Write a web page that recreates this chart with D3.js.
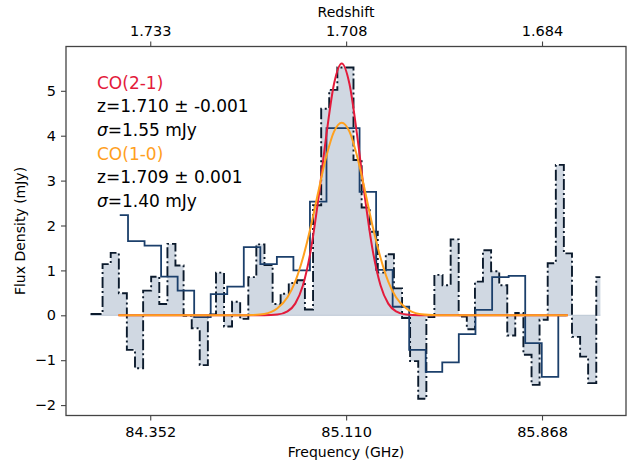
<!DOCTYPE html>
<html>
<head>
<meta charset="utf-8">
<script src="https://cdn.jsdelivr.net/npm/d3@7"></script>
<style>
    body { margin: 0; background: #fff; }
    svg { font-family: "DejaVu Sans", sans-serif; }
</style>
</head>
<body>
<div id="chart"></div>
<script>
// CO(2-1) spectrum, narrow channels (GHz / mJy)
const co21Freq = [
    84.121, 84.152, 84.183, 84.215, 84.246, 84.277, 84.309, 84.340, 84.371, 84.403,
    84.434, 84.465, 84.497, 84.528, 84.559, 84.591, 84.622, 84.653, 84.684, 84.716,
    84.747, 84.778, 84.810, 84.841, 84.872, 84.904, 84.935, 84.966, 84.998, 85.029,
    85.060, 85.092, 85.123, 85.154, 85.186, 85.217, 85.248, 85.279, 85.311, 85.342,
    85.373, 85.405, 85.436, 85.467, 85.499, 85.530, 85.561, 85.593, 85.624, 85.655,
    85.687, 85.718, 85.749, 85.780, 85.812, 85.843, 85.874, 85.906, 85.937, 85.968,
    86.000, 86.031, 86.062, 86.094
];
const co21Flux = [
    0.03, 0.03, 1.14, 1.39, 0.49, -0.77, -1.18, 0.55, 0.86, 0.25,
    1.59, 1.11, -0.01, -0.29, -1.11, 0.02, 0.95, -0.25, 0.30, -0.08,
    0.85, 1.58, 1.12, 0.25, 0.48, 0.72, 0.78, 0.13, 2.45, 4.60,
    5.02, 5.52, 5.52, 3.46, 2.40, 1.86, 0.95, 1.36, 0.60, -0.06,
    -1.02, -1.86, -0.04, 0.90, 0.67, 1.69, -0.03, -0.31, 0.75, 1.45,
    0.98, 0.67, -0.45, 0.05, -0.88, -1.55, -0.10, 1.16, 3.35, 1.38,
    -0.48, -0.92, -1.51, 0.85
];

// CO(1-0) spectrum, wider channels
const co10Freq = [
    84.234, 84.298, 84.362, 84.426, 84.490, 84.554, 84.618, 84.682, 84.746, 84.810,
    84.874, 84.938, 85.002, 85.066, 85.130, 85.194, 85.258, 85.322, 85.386, 85.450,
    85.514, 85.578, 85.643, 85.707, 85.771, 85.835, 85.899, 85.963
];
const co10Flux = [
    2.23, 1.65, 1.55, 0.86, 0.55, -0.04, 0.47, 0.64, 1.52, 1.14,
    1.30, 1.00, 2.53, 4.17, 4.17, 2.75, 1.01, 0.19, -0.77, -1.26,
    -1.05, -0.42, 0.12, 0.85, 0.88, -0.62, -1.37, 0.00
];

// gaussian fits
const fitFreq = [
    84.229, 84.693, 84.743, 84.793, 84.843, 84.883, 84.913, 84.943, 84.973, 85.003,
    85.033, 85.063, 85.093, 85.123, 85.153, 85.183, 85.213, 85.243, 85.273, 85.303,
    85.343, 85.393, 85.443, 85.493, 85.968
];
const fitCo21 = [
    0, 0, 0, 0.001, 0.015, 0.087, 0.26, 0.67, 1.44, 2.61,
    3.99, 5.15, 5.61, 5.15, 3.99, 2.61, 1.44, 0.67, 0.26, 0.087,
    0.015, 0.001, 0, 0, 0
];
const fitCo10 = [
    0, 0, 0.006, 0.03, 0.15, 0.40, 0.75, 1.28, 1.97, 2.77,
    3.53, 4.09, 4.29, 4.09, 3.53, 2.77, 1.97, 1.28, 0.75, 0.40,
    0.15, 0.03, 0.006, 0, 0
];

const freqTicks = [84.352, 85.110, 85.868];
const freqTickLabels = ['84.352', '85.110', '85.868'];
const redshiftTickLabels = ['1.733', '1.708', '1.684'];
const fluxTicks = [-2, -1, 0, 1, 2, 3, 4, 5];

const annotations = [
    { text: 'CO(2-1)', color: '#e31b3b' },
    { text: 'z=1.710 ± -0.001', color: '#000' },
    { sigma: '=1.55 mJy', color: '#000' },
    { text: 'CO(1-0)', color: '#ffa01e' },
    { text: 'z=1.709 ± 0.001', color: '#000' },
    { sigma: '=1.40 mJy', color: '#000' }
];

drawChart();

function drawChart() {
    const width = 638;
    const height = 460;
    const left = 66, right = 626, top = 46.5, bottom = 415.5;
    const axisColor = '#444';

    const svg = d3.select('#chart')
        .append('svg')
        .attr('width', width)
        .attr('height', height);

    const x = d3.scaleLinear().domain([84.026, 86.193]).range([left, right]);
    const y = d3.scaleLinear().domain([-2.232, 5.987]).range([bottom, top]);

    const co21 = co21Freq.map((f, i) => ({ f: f, v: co21Flux[i] }));
    const co10 = co10Freq.map((f, i) => ({ f: f, v: co10Flux[i] }));

    // shaded CO(2-1) spectrum
    const area = d3.area()
        .curve(d3.curveStep)
        .x(d => x(d.f))
        .y0(y(0))
        .y1(d => y(d.v));

    svg.append('path')
        .datum(co21)
        .attr('d', area)
        .attr('fill', '#d0d8e2')
        .attr('stroke', 'none');

    svg.append('line')
        .attr('x1', x(co21Freq[0]))
        .attr('x2', x(co21Freq[co21Freq.length - 1]))
        .attr('y1', y(0))
        .attr('y2', y(0))
        .attr('stroke', '#bcc7d4')
        .attr('stroke-width', 1);

    const stepLine = d3.line()
        .curve(d3.curveStep)
        .x(d => x(d.f))
        .y(d => y(d.v));

    svg.append('path')
        .datum(co21)
        .attr('d', stepLine)
        .attr('fill', 'none')
        .attr('stroke', '#0b1a2c')
        .attr('stroke-width', 1.9)
        .attr('stroke-dasharray', '11,3,2,3');

    svg.append('path')
        .datum(co10)
        .attr('d', stepLine)
        .attr('fill', 'none')
        .attr('stroke', '#1b3f6b')
        .attr('stroke-width', 1.8);

    // fitted profiles
    const fitLine = d3.line()
        .curve(d3.curveMonotoneX)
        .x(d => x(d.f))
        .y(d => y(d.v));

    svg.append('path')
        .datum(fitFreq.map((f, i) => ({ f: f, v: fitCo21[i] })))
        .attr('d', fitLine)
        .attr('fill', 'none')
        .attr('stroke', '#e31b3b')
        .attr('stroke-width', 2);

    svg.append('path')
        .datum(fitFreq.map((f, i) => ({ f: f, v: fitCo10[i] })))
        .attr('d', fitLine)
        .attr('fill', 'none')
        .attr('stroke', '#ffa01e')
        .attr('stroke-width', 2);

    // frame
    svg.append('rect')
        .attr('x', left)
        .attr('y', top)
        .attr('width', right - left)
        .attr('height', bottom - top)
        .attr('fill', 'none')
        .attr('stroke', axisColor)
        .attr('stroke-width', 1.3);

    // axes
    const bottomAxis = svg.append('g')
        .attr('transform', `translate(0,${bottom})`)
        .call(d3.axisBottom(x)
            .tickValues(freqTicks)
            .tickFormat((d, i) => freqTickLabels[i])
            .tickSize(5)
            .tickPadding(6));

    const topAxis = svg.append('g')
        .attr('transform', `translate(0,${top})`)
        .call(d3.axisTop(x)
            .tickValues(freqTicks)
            .tickFormat((d, i) => redshiftTickLabels[i])
            .tickSize(5)
            .tickPadding(6));

    const leftAxis = svg.append('g')
        .attr('transform', `translate(${left},0)`)
        .call(d3.axisLeft(y)
            .tickValues(fluxTicks)
            .tickFormat(d => d < 0 ? '\u2212' + Math.abs(d) : String(d))
            .tickSize(5)
            .tickPadding(5));

    [bottomAxis, topAxis, leftAxis].forEach(g => {
        g.select('.domain').remove();
        g.selectAll('.tick line').attr('stroke', axisColor).attr('stroke-width', 1.1);
        g.selectAll('.tick text')
            .attr('fill', '#000')
            .style('font-size', '14.5px')
            .style('font-family', '"DejaVu Sans", sans-serif');
    });

    // axis labels
    svg.append('text')
        .attr('x', (left + right) / 2)
        .attr('y', 457)
        .attr('text-anchor', 'middle')
        .style('font-size', '14px')
        .text('Frequency (GHz)');

    svg.append('text')
        .attr('x', (left + right) / 2)
        .attr('y', 17)
        .attr('text-anchor', 'middle')
        .style('font-size', '14px')
        .text('Redshift');

    svg.append('text')
        .attr('transform', `translate(25,${(top + bottom) / 2}) rotate(-90)`)
        .attr('text-anchor', 'middle')
        .style('font-size', '14px')
        .text('Flux Density (mJy)');

    // fit annotations
    annotations.forEach((a, i) => {
        const t = svg.append('text')
            .attr('x', 97)
            .attr('y', 88.5 + i * 23.7)
            .attr('fill', a.color)
            .style('font-size', '17px');
        if (a.sigma) {
            t.append('tspan').style('font-style', 'italic').text('σ');
            t.append('tspan').text(a.sigma);
        } else {
            t.text(a.text);
        }
    });
}
</script>
</body>
</html>
